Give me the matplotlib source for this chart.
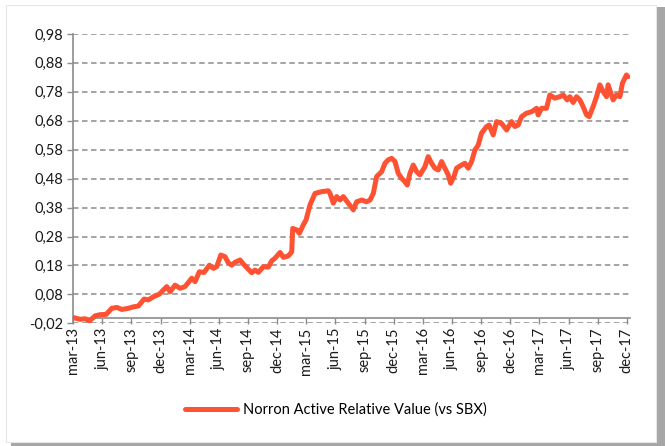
import numpy as np
import matplotlib
matplotlib.use('Agg')
import matplotlib.pyplot as plt
from matplotlib.patches import Rectangle

plt.rcParams['font.family'] = ['Lato', 'DejaVu Sans']

# months after start of mar-13
months = [0.0, 0.72, 1.23, 1.68, 2.26, 2.78, 3.40, 3.98, 4.50, 5.01, 5.69, 6.20, 6.72, 7.30,
          7.75, 8.26, 8.88, 9.29, 9.64, 9.98, 10.49, 11.01, 11.52, 12.21, 12.55, 12.99, 13.48,
          14.02, 14.43, 14.78, 15.20, 15.64, 15.98, 16.33, 16.67, 17.18, 17.52, 18.04, 18.38,
          18.72, 19.07, 19.58, 20.09, 20.44, 20.78, 21.30, 21.64, 22.15, 22.50, 22.60, 23.01,
          23.28, 23.69, 23.97, 24.38, 24.90, 25.59, 26.27, 26.44, 26.78, 27.13, 27.47, 27.81,
          28.32, 28.84, 29.19, 29.70, 30.22, 30.56, 30.90, 31.24, 31.76, 32.10, 32.44, 32.79,
          33.13, 33.47, 33.82, 34.16, 34.39, 34.67, 35.01, 35.36, 35.70, 36.21, 36.55, 36.90,
          37.24, 37.58, 37.93, 38.27, 38.61, 38.86, 39.20, 39.47, 39.99, 40.33, 40.67, 41.02,
          41.36, 41.70, 42.04, 42.56, 42.83, 43.24, 43.59, 44.10, 44.62, 45.13, 45.47, 45.81,
          46.16, 46.67, 47.19, 47.71, 47.87, 48.22, 48.73, 49.07, 49.59, 50.10, 50.44, 50.85,
          51.13, 51.47, 51.82, 52.16, 52.50, 52.85, 53.12, 53.53, 53.88, 54.22, 54.56, 54.91,
          55.07, 55.42, 55.59, 55.93, 56.28, 56.55, 56.96, 57.13]
values = [0.0, -0.006, -0.004, -0.012, 0.006, 0.010, 0.011, 0.032, 0.035, 0.028, 0.032, 0.037,
          0.040, 0.064, 0.061, 0.072, 0.081, 0.095, 0.107, 0.089, 0.112, 0.101, 0.107, 0.136,
          0.124, 0.158, 0.156, 0.181, 0.170, 0.176, 0.216, 0.210, 0.189, 0.181, 0.191, 0.199,
          0.185, 0.167, 0.155, 0.164, 0.156, 0.176, 0.174, 0.196, 0.205, 0.225, 0.208, 0.213,
          0.227, 0.308, 0.303, 0.291, 0.320, 0.337, 0.389, 0.429, 0.435, 0.438, 0.429, 0.395,
          0.418, 0.406, 0.418, 0.395, 0.372, 0.400, 0.406, 0.400, 0.406, 0.429, 0.487, 0.504,
          0.533, 0.545, 0.550, 0.539, 0.498, 0.481, 0.469, 0.458, 0.498, 0.527, 0.504, 0.493,
          0.521, 0.556, 0.533, 0.516, 0.510, 0.539, 0.516, 0.493, 0.464, 0.487, 0.516, 0.527,
          0.533, 0.516, 0.539, 0.579, 0.596, 0.637, 0.660, 0.665, 0.631, 0.677, 0.671, 0.648,
          0.677, 0.660, 0.665, 0.694, 0.706, 0.711, 0.723, 0.700, 0.723, 0.723, 0.769, 0.758,
          0.763, 0.769, 0.752, 0.763, 0.743, 0.763, 0.752, 0.729, 0.700, 0.694, 0.729, 0.763,
          0.804, 0.781, 0.763, 0.804, 0.769, 0.752, 0.769, 0.763, 0.810, 0.838, 0.832]

tick_labels = ['mar-13', 'jun-13', 'sep-13', 'dec-13', 'mar-14', 'jun-14', 'sep-14', 'dec-14',
               'mar-15', 'jun-15', 'sep-15', 'dec-15', 'mar-16', 'jun-16', 'sep-16', 'dec-16',
               'mar-17', 'jun-17', 'sep-17', 'dec-17']
y_ticks = np.round(np.arange(-0.02, 0.99, 0.1), 2)
series_name = 'Norron Active Relative Value (vs SBX)'

fig = plt.figure(figsize=(6.65, 4.46), dpi=100)

# chart frame with a drop shadow
fig.patches.append(Rectangle((0.016, 0.0), 0.984, 0.985, transform=fig.transFigure,
                             facecolor='#a6a6a6', edgecolor='none', zorder=-2))
fig.patches.append(Rectangle((0.009, 0.008), 0.978, 0.98, transform=fig.transFigure,
                             facecolor='white', edgecolor='#e6e6e6', linewidth=0.8, zorder=-1))

ax = fig.add_axes([0.11, 0.275, 0.837, 0.649])
ax.set_facecolor('none')

grey = '#8c8c8c'
# spine position first: moving it resets the ticks
for s in ['top', 'right']:
    ax.spines[s].set_visible(False)
ax.spines['bottom'].set_position(('data', 0))
ax.spines['bottom'].set_color(grey)
ax.spines['bottom'].set_linewidth(1.2)
ax.spines['left'].set_color(grey)
ax.spines['left'].set_linewidth(1.2)
ax.spines['bottom'].set_zorder(2)

for v in y_ticks:
    ax.axhline(v, color=grey, linewidth=1.1, dashes=(3.6, 2.3), zorder=1)

line, = ax.plot(months, values, color='#ff5233', linewidth=3.6, solid_joinstyle='round',
                solid_capstyle='round', zorder=3, label=series_name)

ax.set_xlim(0, 57.3)
ax.set_ylim(-0.02, 0.98)
ax.set_yticks(y_ticks)
ax.set_yticklabels([f'{v:.2f}'.replace('.', ',') for v in y_ticks])
ax.set_xticks(np.arange(0, 3 * len(tick_labels), 3))
ax.set_xticklabels(tick_labels)

ax.tick_params(axis='both', colors=grey, length=4, width=1.0, labelsize=10.5,
               labelcolor='#1a1a1a', direction='out')
ax.tick_params(axis='x', pad=3, labelrotation=90)
ax.tick_params(axis='y', pad=3)

fig.legend(handles=[line], loc='center', bbox_to_anchor=(0.505, 0.081),
           frameon=False, fontsize=10.5, handlelength=3.6, handletextpad=0.4)

fig.savefig('out.png', dpi=100)
